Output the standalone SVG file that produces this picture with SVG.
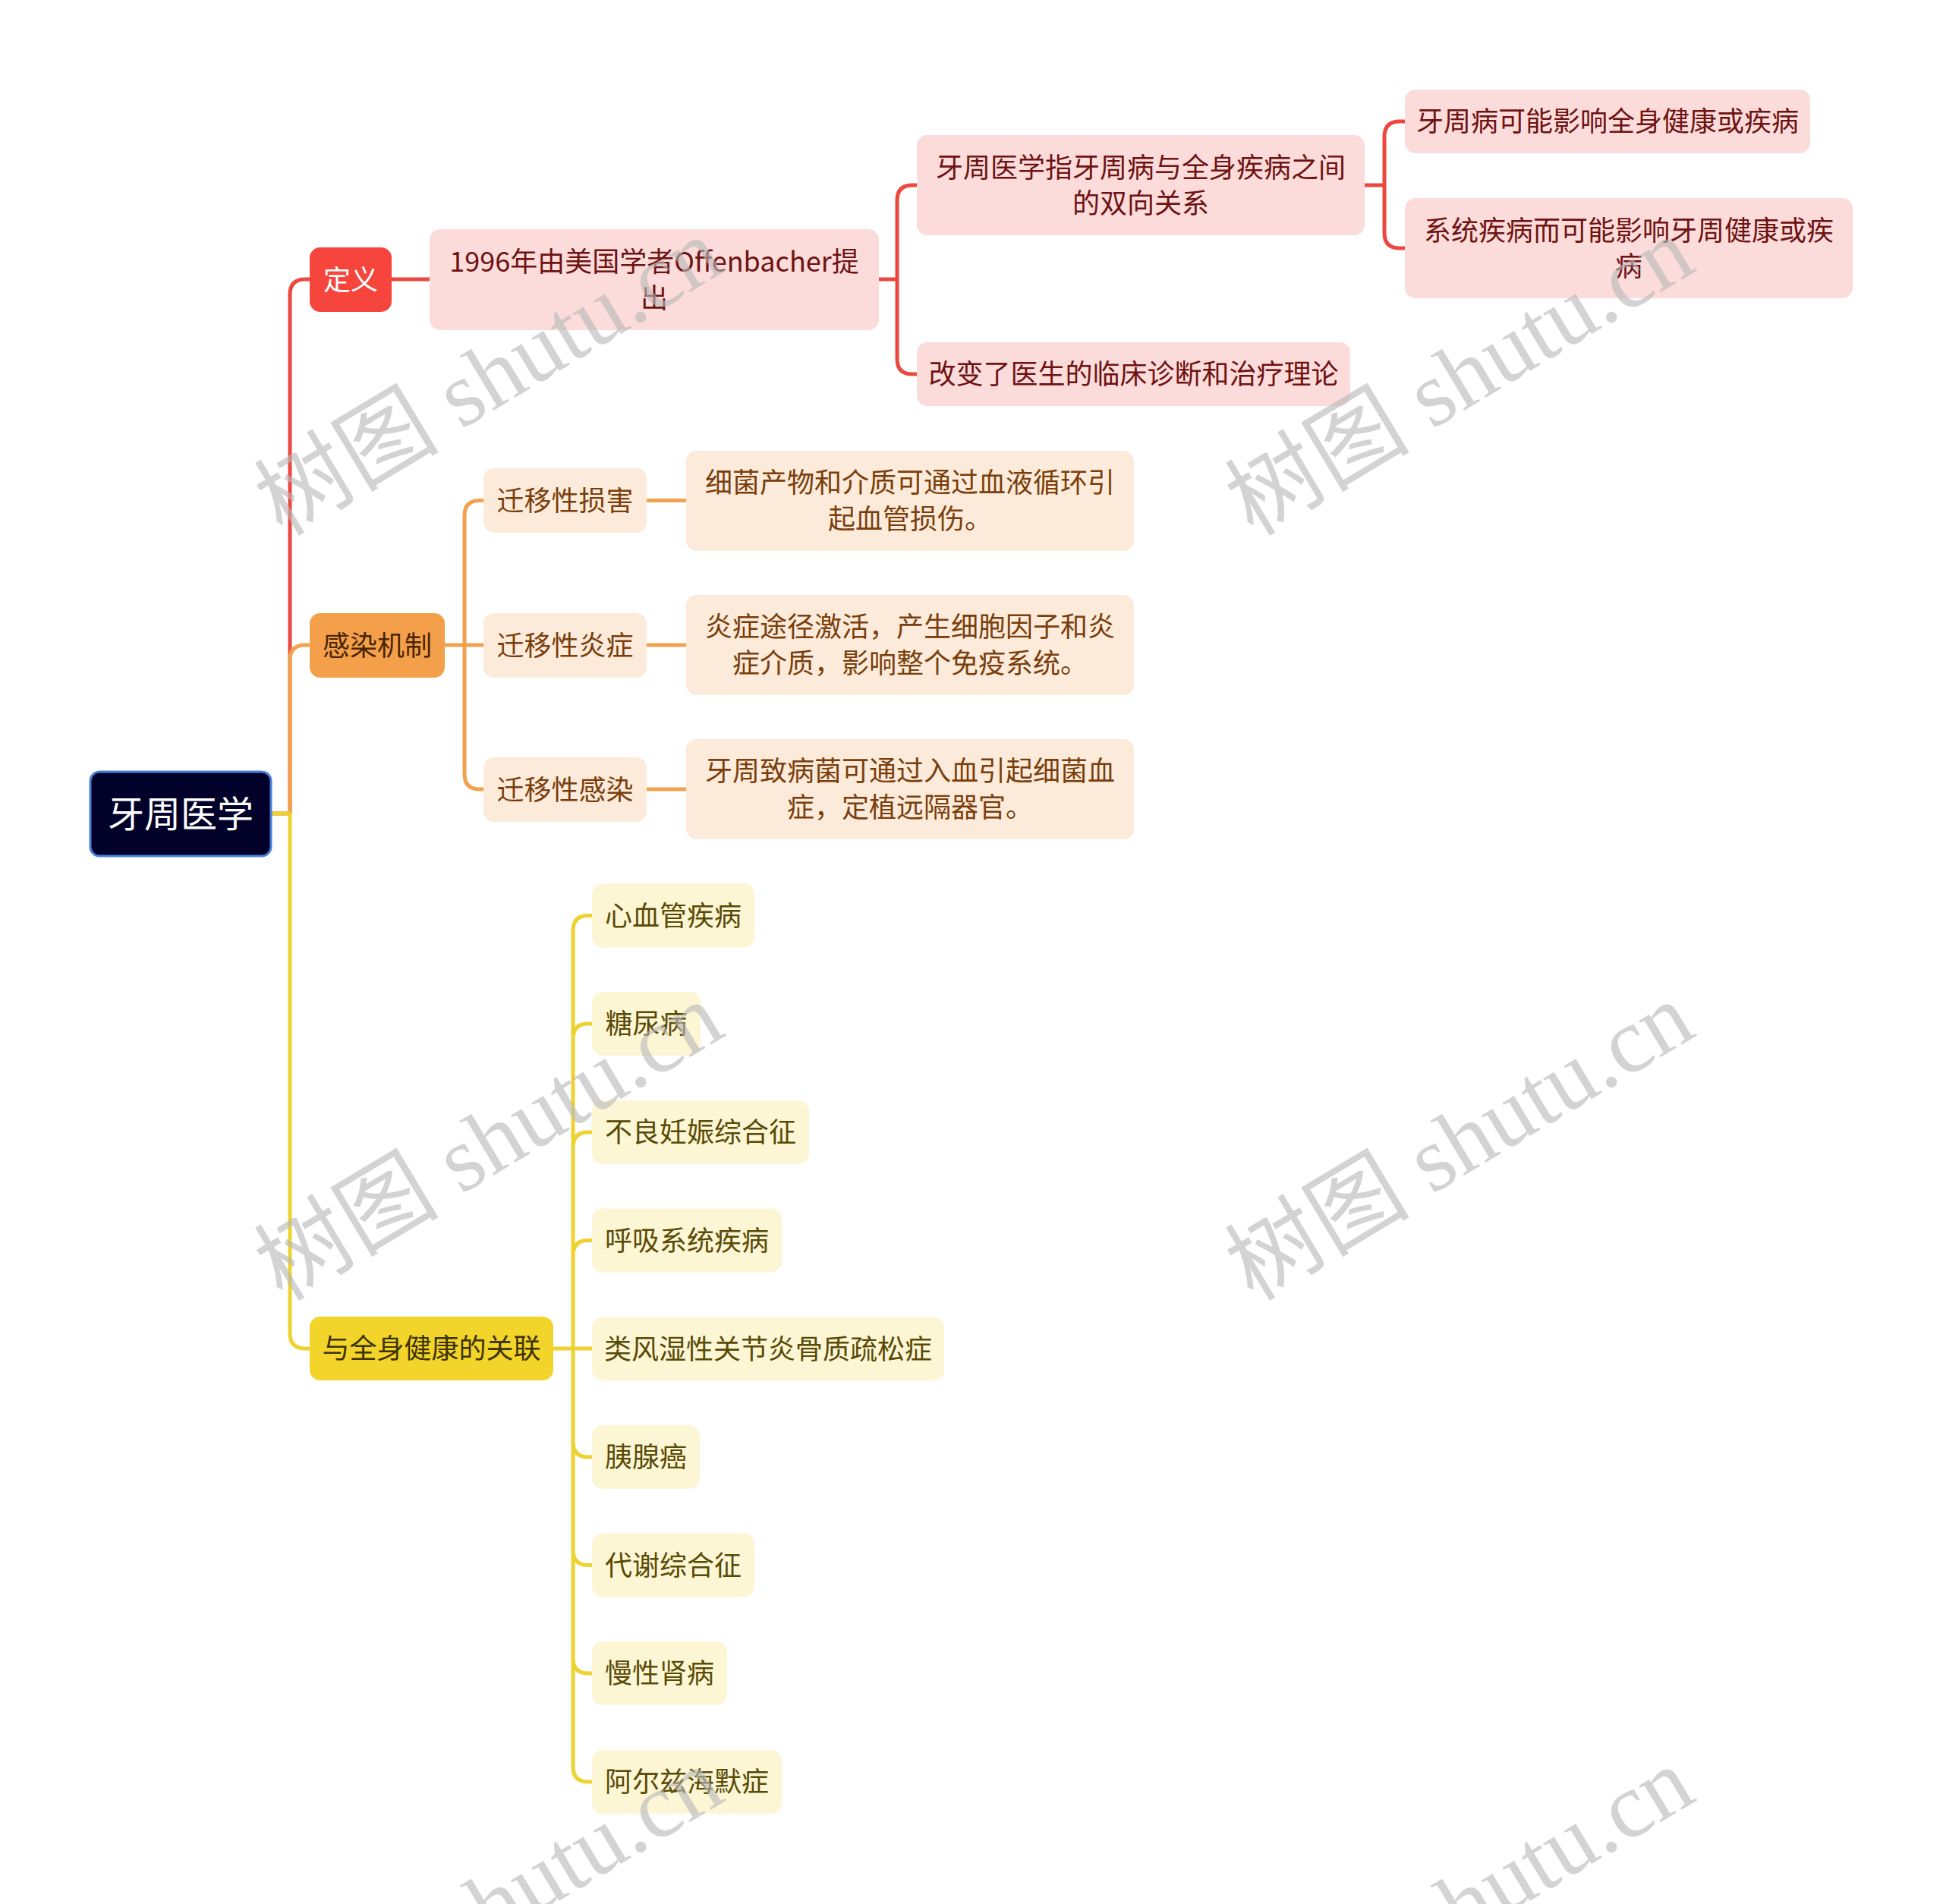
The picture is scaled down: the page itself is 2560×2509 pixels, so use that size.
<svg xmlns="http://www.w3.org/2000/svg" width="2560" height="2509" viewBox="0 0 2560 2509">
<style>
text{font-family:"Noto Sans CJK SC","Noto Sans",sans-serif;font-size:36px;text-anchor:middle;dominant-baseline:central}
.ln{fill:none;stroke-width:5;stroke-linejoin:round;stroke-linecap:butt}
.red{stroke:#EC4840}.ora{stroke:#F2A24F}.yel{stroke:#EDD230}
.r1{fill:#F5453D}.r2{fill:#FCDCDB}.o1{fill:#F4A04A}.o2{fill:#FCEBDA}.y1{fill:#F2D42B}.y2{fill:#FDF6D5}
.tw{fill:#ffffff}.tr{fill:#6E1212}.to1{fill:#4A2504}.to2{fill:#7A3E0C}.ty1{fill:#3D3300}.ty2{fill:#594A05}
.wm{font-family:"Liberation Serif","Noto Sans CJK SC",serif;font-size:122px;fill:#b9b9b9;opacity:0.62;text-anchor:start;dominant-baseline:alphabetic}
</style>
<defs>
<text id="wmt" class="wm" x="0" y="0">树图 shutu.cn</text>
</defs>
<rect width="2560" height="2509" fill="#ffffff"/>
<g id="connectors">
<path class="ln red" d="M356,1072 H382 V388 Q382,368 402,368 H408"/>
<path class="ln red" d="M516,368 H566"/>
<path class="ln red" d="M1158,368 H1182 V264 Q1182,244 1202,244 H1208 M1182,368 V473 Q1182,493 1202,493 H1208"/>
<path class="ln red" d="M1797,244 H1824 V180 Q1824,160 1844,160 H1851 M1824,244 V307 Q1824,327 1844,327 H1851"/>
<path class="ln ora" d="M382,1072 V870 Q382,850 402,850 H408"/>
<path class="ln ora" d="M586,850 H637 M612,850 V679.5 Q612,659.5 632,659.5 H637 M612,850 V1020 Q612,1040 632,1040 H637"/>
<path class="ln ora" d="M852,659.5 H904 M852,850 H904 M852,1040 H904"/>
<path class="ln yel" d="M356,1072 H382 V1757 Q382,1777 402,1777 H408"/>
<path class="ln yel" d="M729,1777 H780 M755,1777 V1226.5 Q755,1206.5 775,1206.5 H780 M755,1369 Q755,1349 775,1349 H780 M755,1512 Q755,1492 775,1492 H780 M755,1654.5 Q755,1634.5 775,1634.5 H780 M755,1777 V2328 Q755,2348 775,2348 H780 M755,1900 Q755,1920 775,1920 H780 M755,2042.5 Q755,2062.5 775,2062.5 H780 M755,2185 Q755,2205 775,2205 H780"/>
</g>
<g id="root"><rect x="119" y="1017" width="238" height="111" rx="12" fill="#020129" stroke="#4A7FD8" stroke-width="3"/><text class="tw" x="238" y="1069" style="font-size:48px">牙周医学</text></g>
<g id="n-dingyi"><rect class="r1" x="408" y="326" width="108" height="85" rx="14"/><text class="tw" x="462" y="365.5">定义</text></g>
<g id="n-1996"><rect class="r2" x="566" y="302" width="592" height="133" rx="14"/><text class="tr" x="862" y="342">1996年由美国学者Offenbacher提</text><text class="tr" x="862" y="390">出</text></g>
<g id="n-zhi"><rect class="r2" x="1208" y="178" width="590" height="132" rx="14"/><text class="tr" x="1503" y="218">牙周医学指牙周病与全身疾病之间</text><text class="tr" x="1503" y="265">的双向关系</text></g>
<g id="n-gaibian"><rect class="r2" x="1208" y="451" width="571" height="84" rx="14"/><text class="tr" x="1493.5" y="490">改变了医生的临床诊断和治疗理论</text></g>
<g id="n-yingxiang1"><rect class="r2" x="1851" y="118" width="534" height="84" rx="14"/><text class="tr" x="2118" y="157">牙周病可能影响全身健康或疾病</text></g>
<g id="n-yingxiang2"><rect class="r2" x="1851" y="261" width="590" height="132" rx="14"/><text class="tr" x="2146" y="301">系统疾病而可能影响牙周健康或疾</text><text class="tr" x="2146" y="348">病</text></g>
<g id="n-ganran"><rect class="o1" x="408" y="808" width="178" height="85" rx="14"/><text class="to1" x="497" y="847.5">感染机制</text></g>
<g id="n-sunhai"><rect class="o2" x="637" y="617" width="215" height="85" rx="14"/><text class="to2" x="744.5" y="656.5">迁移性损害</text></g>
<g id="n-sunhai-d"><rect class="o2" x="904" y="594" width="590" height="132" rx="14"/><text class="to2" x="1199" y="633">细菌产物和介质可通过血液循环引</text><text class="to2" x="1199" y="681">起血管损伤。</text></g>
<g id="n-yanzheng"><rect class="o2" x="637" y="808" width="215" height="85" rx="14"/><text class="to2" x="744.5" y="847.5">迁移性炎症</text></g>
<g id="n-yanzheng-d"><rect class="o2" x="904" y="784" width="590" height="132" rx="14"/><text class="to2" x="1199" y="823">炎症途径激活，产生细胞因子和炎</text><text class="to2" x="1199" y="871">症介质，影响整个免疫系统。</text></g>
<g id="n-ganran2"><rect class="o2" x="637" y="998" width="215" height="85" rx="14"/><text class="to2" x="744.5" y="1037.5">迁移性感染</text></g>
<g id="n-ganran2-d"><rect class="o2" x="904" y="974" width="590" height="132" rx="14"/><text class="to2" x="1199" y="1013">牙周致病菌可通过入血引起细菌血</text><text class="to2" x="1199" y="1061">症，定植远隔器官。</text></g>
<g id="n-guanlian"><rect class="y1" x="408" y="1735" width="321" height="84" rx="14"/><text class="ty1" x="568.5" y="1774">与全身健康的关联</text></g>
<g id="n-xinxueguan"><rect class="y2" x="780" y="1164.5" width="214" height="84" rx="14"/><text class="ty2" x="887" y="1203.5">心血管疾病</text></g>
<g id="n-tangniao"><rect class="y2" x="780" y="1307" width="143" height="84" rx="14"/><text class="ty2" x="851.5" y="1346">糖尿病</text></g>
<g id="n-renshen"><rect class="y2" x="780" y="1450" width="286" height="84" rx="14"/><text class="ty2" x="923" y="1489">不良妊娠综合征</text></g>
<g id="n-huxi"><rect class="y2" x="780" y="1592.5" width="250" height="84" rx="14"/><text class="ty2" x="905" y="1631.5">呼吸系统疾病</text></g>
<g id="n-leifeng"><rect class="y2" x="780" y="1735.5" width="464" height="84" rx="14"/><text class="ty2" x="1012" y="1774.5">类风湿性关节炎骨质疏松症</text></g>
<g id="n-yixian"><rect class="y2" x="780" y="1878" width="142" height="84" rx="14"/><text class="ty2" x="851" y="1917">胰腺癌</text></g>
<g id="n-daixie"><rect class="y2" x="780" y="2020.5" width="214" height="84" rx="14"/><text class="ty2" x="887" y="2059.5">代谢综合征</text></g>
<g id="n-shenbing"><rect class="y2" x="780" y="2163" width="178" height="84" rx="14"/><text class="ty2" x="869" y="2202">慢性肾病</text></g>
<g id="n-aerzi"><rect class="y2" x="780" y="2306" width="250" height="84" rx="14"/><text class="ty2" x="905" y="2345">阿尔兹海默症</text></g>
<g id="watermarks">
<use href="#wmt" transform="translate(372,708) rotate(-31)"/>
<use href="#wmt" transform="translate(1651,708) rotate(-31)"/>
<use href="#wmt" transform="translate(372,1716) rotate(-31)"/>
<use href="#wmt" transform="translate(1651,1716) rotate(-31)"/>
<use href="#wmt" transform="translate(372,2724) rotate(-31)"/>
<use href="#wmt" transform="translate(1651,2724) rotate(-31)"/>
</g>
</svg>
